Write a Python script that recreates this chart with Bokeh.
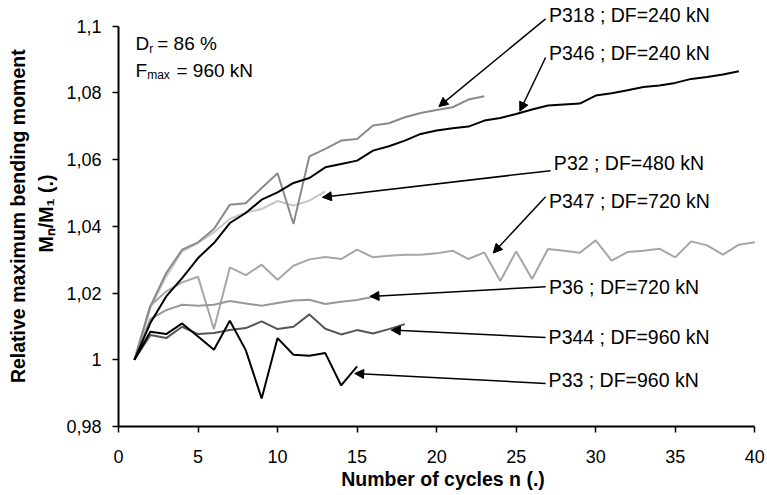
import numpy as np
from bokeh.plotting import figure
from bokeh.models import (Range1d, FixedTicker, CustomJSTickFormatter, Label, Arrow, NormalHead)
from bokeh.embed import file_html
from bokeh.resources import INLINE

# ---- data ----
p318 = [1.0, 1.016, 1.026, 1.033, 1.0352, 1.0392, 1.0465, 1.0469, 1.0515, 1.0559, 1.0407, 1.061,
        1.0632, 1.0657, 1.0662, 1.0702, 1.0709, 1.0727, 1.074, 1.0749, 1.0757, 1.078, 1.079]
p346 = [1.0, 1.011, 1.019, 1.0245, 1.0305, 1.035, 1.041, 1.044, 1.048, 1.0502, 1.053, 1.0545,
        1.0577, 1.0587, 1.0597, 1.0627, 1.064, 1.0657, 1.0677, 1.0687, 1.0694, 1.0699, 1.0717,
        1.0725, 1.0737, 1.075, 1.0762, 1.0765, 1.0768, 1.0792, 1.0799, 1.0808, 1.0818, 1.0822,
        1.083, 1.0842, 1.0848, 1.0855, 1.0865]
p32 = [1.0, 1.0155, 1.025, 1.0325, 1.035, 1.0382, 1.0422, 1.0442, 1.0452, 1.0476, 1.0462,
       1.0477, 1.0505]
p347 = [1.0, 1.0162, 1.0205, 1.0232, 1.0249, 1.0092, 1.0277, 1.0254, 1.0285, 1.024, 1.0282,
        1.0301, 1.0308, 1.0302, 1.033, 1.0307, 1.0312, 1.0315, 1.0315, 1.0319, 1.0327, 1.0302,
        1.0322, 1.0236, 1.0325, 1.0242, 1.0332, 1.0327, 1.0321, 1.0358, 1.0297, 1.0323, 1.0327,
        1.0333, 1.0307, 1.0355, 1.0343, 1.0315, 1.0345, 1.0352]
p36 = [1.0, 1.0122, 1.0149, 1.0165, 1.0162, 1.0165, 1.0176, 1.0169, 1.0162, 1.017, 1.0178,
       1.018, 1.0167, 1.0174, 1.0179, 1.0189]
p344 = [1.0, 1.0074, 1.0065, 1.0099, 1.0077, 1.008, 1.0089, 1.0095, 1.0115, 1.0092, 1.0099,
        1.0136, 1.0093, 1.0076, 1.0089, 1.0079, 1.0092, 1.0107]
p33 = [1.0, 1.0084, 1.0077, 1.0109, 1.007, 1.003, 1.0117, 1.0029, 0.9884, 1.0065, 1.0015,
       1.0012, 1.002, 0.9923, 0.998]

x_ticks = [0, 5, 10, 15, 20, 25, 30, 35, 40]
y_ticks = [0.98, 1.0, 1.02, 1.04, 1.06, 1.08, 1.1]

series_names = ["P32", "P347", "P36", "P318", "P344", "P346", "P33"]
series_vals = [p32, p347, p36, p318, p344, p346, p33]
series_colors = ["#c6c6c6", "#a6a6a6", "#989898", "#8a8a8a", "#555555", "#000000", "#000000"]

labels = ["P318 ; DF=240 kN", "P346 ; DF=240 kN", "P32 ; DF=480 kN", "P347 ; DF=720 kN",
          "P36 ; DF=720 kN", "P344 ; DF=960 kN", "P33 ; DF=960 kN"]
label_x = [27.06, 27.06, 27.37, 27.06, 27.06, 27.04, 27.04]
label_y = [1.1035, 1.0921, 1.0589, 1.0477, 1.0219, 1.0067, 0.9939]
arrow_start = [(26.85, 1.1022), (26.85, 1.0906), (27.16, 1.0567), (26.85, 1.0489),
               (26.85, 1.0219), (26.85, 1.0067), (26.85, 0.9929)]
arrow_end = [(20.14, 1.0759), (25.23, 1.0745), (12.82, 1.0487), (23.56, 1.0320),
             (15.81, 1.0190), (17.15, 1.0089), (14.85, 0.9959)]

FONT = "Liberation Sans"

# the frame reaches the top and right edges so the labels up there are not clipped;
# the axes themselves are bounded to 0..40 and 0.98..1.1
p = figure(width=767, height=495, output_backend="svg", toolbar_location=None,
           x_range=Range1d(0, 40.8), y_range=Range1d(0.98, 1.1077),
           min_border_left=118, min_border_right=0, min_border_top=0, min_border_bottom=69)
p.outline_line_color = None
p.background_fill_color = "white"
p.border_fill_color = "white"
p.xgrid.visible = False
p.ygrid.visible = False

for vals, col in zip(series_vals, series_colors):
    n = list(range(1, len(vals) + 1))
    p.line(n, vals, line_color=col, line_width=2)

p.xaxis.ticker = FixedTicker(ticks=x_ticks)
p.yaxis.ticker = FixedTicker(ticks=y_ticks)
p.xaxis.bounds = (0, 40)
p.yaxis.bounds = (0.98, 1.1)
p.yaxis.formatter = CustomJSTickFormatter(code="""
    return tick.toFixed(2).replace(/0+$/, '').replace(/\\.$/, '').replace('.', ',');
""")
for ax in (p.xaxis, p.yaxis):
    ax.axis_line_width = 2
    ax.axis_line_color = "black"
    ax.major_tick_line_width = 1.5
    ax.major_tick_line_color = "black"
    ax.major_tick_out = 6
    ax.major_tick_in = 0
    ax.minor_tick_out = 0
    ax.minor_tick_in = 0
    ax.major_label_text_font = FONT
    ax.major_label_text_font_size = "18px"
    ax.major_label_text_color = "black"
    ax.axis_label_text_font = FONT
    ax.axis_label_text_font_size = "19.5px"
    ax.axis_label_text_font_style = "bold"
    ax.axis_label_text_color = "black"
p.xaxis.major_label_standoff = 17
p.yaxis.major_label_standoff = 11
p.xaxis.axis_label = "Number of cycles n (.)"
p.xaxis.axis_label_standoff = 2
p.yaxis.axis_label = "Relative maximum  bending moment\nM\u2099/M\u2081 (.)"
p.yaxis.axis_label_standoff = 6
p.yaxis.axis_label_text_line_height = 1.3

# series labels and arrows
for t, lx, ly in zip(labels, label_x, label_y):
    p.add_layout(Label(x=lx, y=ly, text=t, text_font=FONT, text_font_size="19.5px",
                       text_baseline="middle", text_align="left", text_color="black"))
for (xs, ys), (xe, ye) in zip(arrow_start, arrow_end):
    p.add_layout(Arrow(x_start=xs, y_start=ys, x_end=xe, y_end=ye, line_width=1.5,
                       line_color="black",
                       end=NormalHead(size=9, fill_color="black", line_color="black", line_width=1)))

def slabel(x, y, text, size="19px", style="normal"):
    # screen offsets measured from the plot frame's lower-left corner
    p.add_layout(Label(x=x, y=y, x_units="screen", y_units="screen", text=text,
                       text_font=FONT, text_font_size=size, text_font_style=style,
                       text_align="left", text_baseline="alphabetic", text_color="black"))

# D_r = 86 %, F_max = 960 kN
slabel(17, 382.7, "D")
slabel(30.7, 378, "r", size="12px")
slabel(38.7, 382.7, "= 86 %")
slabel(17, 356, "F")
slabel(28.7, 351.5, "max", size="12px")
slabel(58, 356, "= 960 kN")

open("out.html", "w").write(file_html(p, INLINE))
